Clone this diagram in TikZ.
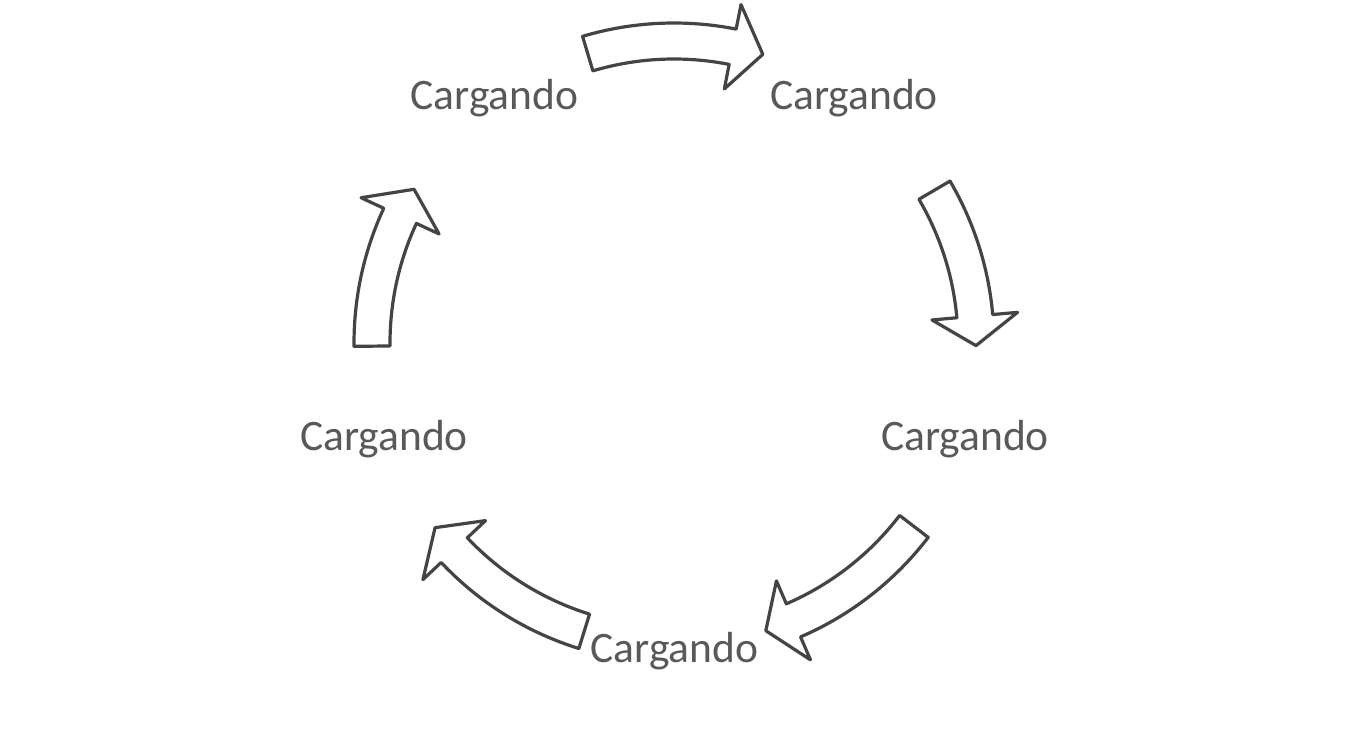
\documentclass[tikz,border=0pt]{standalone}
\usepackage{fontspec}
\setmainfont{Carlito}
\usetikzlibrary{calc}
\definecolor{txtgray}{HTML}{595959}
\definecolor{linegray}{HTML}{444444}
\tikzset{
  arrowshape/.style={draw=linegray, fill=white, line width=3.2pt, line join=round},
  lbl/.style={text=txtgray, font=\fontsize{43.5}{50}\selectfont, anchor=base, inner sep=0pt}
}
% #1 tail angle, #2 head-base angle, #3 tip angle
\newcommand{\cycarrow}[3]{%
  \draw[arrowshape] (#1:320pt) arc[start angle=#1, end angle=#2, radius=320pt]
    -- (#2:345pt) -- (#3:302pt) -- (#2:259pt) -- (#2:284pt)
    arc[start angle=#2, end angle=#1, radius=284pt] -- cycle;}
\begin{document}
\begin{tikzpicture}[x=1pt,y=1pt]
\path[use as bounding box, fill=white] (0,0) rectangle (1350,742);
\node[lbl] (c1) at (494.5,632) {Cargando};
\node[lbl] (c2) at (854,632) {Cargando};
\node[lbl] (c3) at (965,291) {Cargando};
\node[lbl] (c4) at (674.5,79) {Cargando};
\node[lbl] (c5) at (384,291) {Cargando};
\begin{scope}[shift={(674,399)}]
  \cycarrow{106.6}{78.8}{72.9}
  \cycarrow{30.4}{5.1}{-0.5}
  \cycarrow{-37.4}{-66.7}{-72.3}
  \cycarrow{-107.3}{-136.7}{-142.3}
  \cycarrow{180.6}{155.1}{149.4}
\end{scope}
\end{tikzpicture}
\end{document}
